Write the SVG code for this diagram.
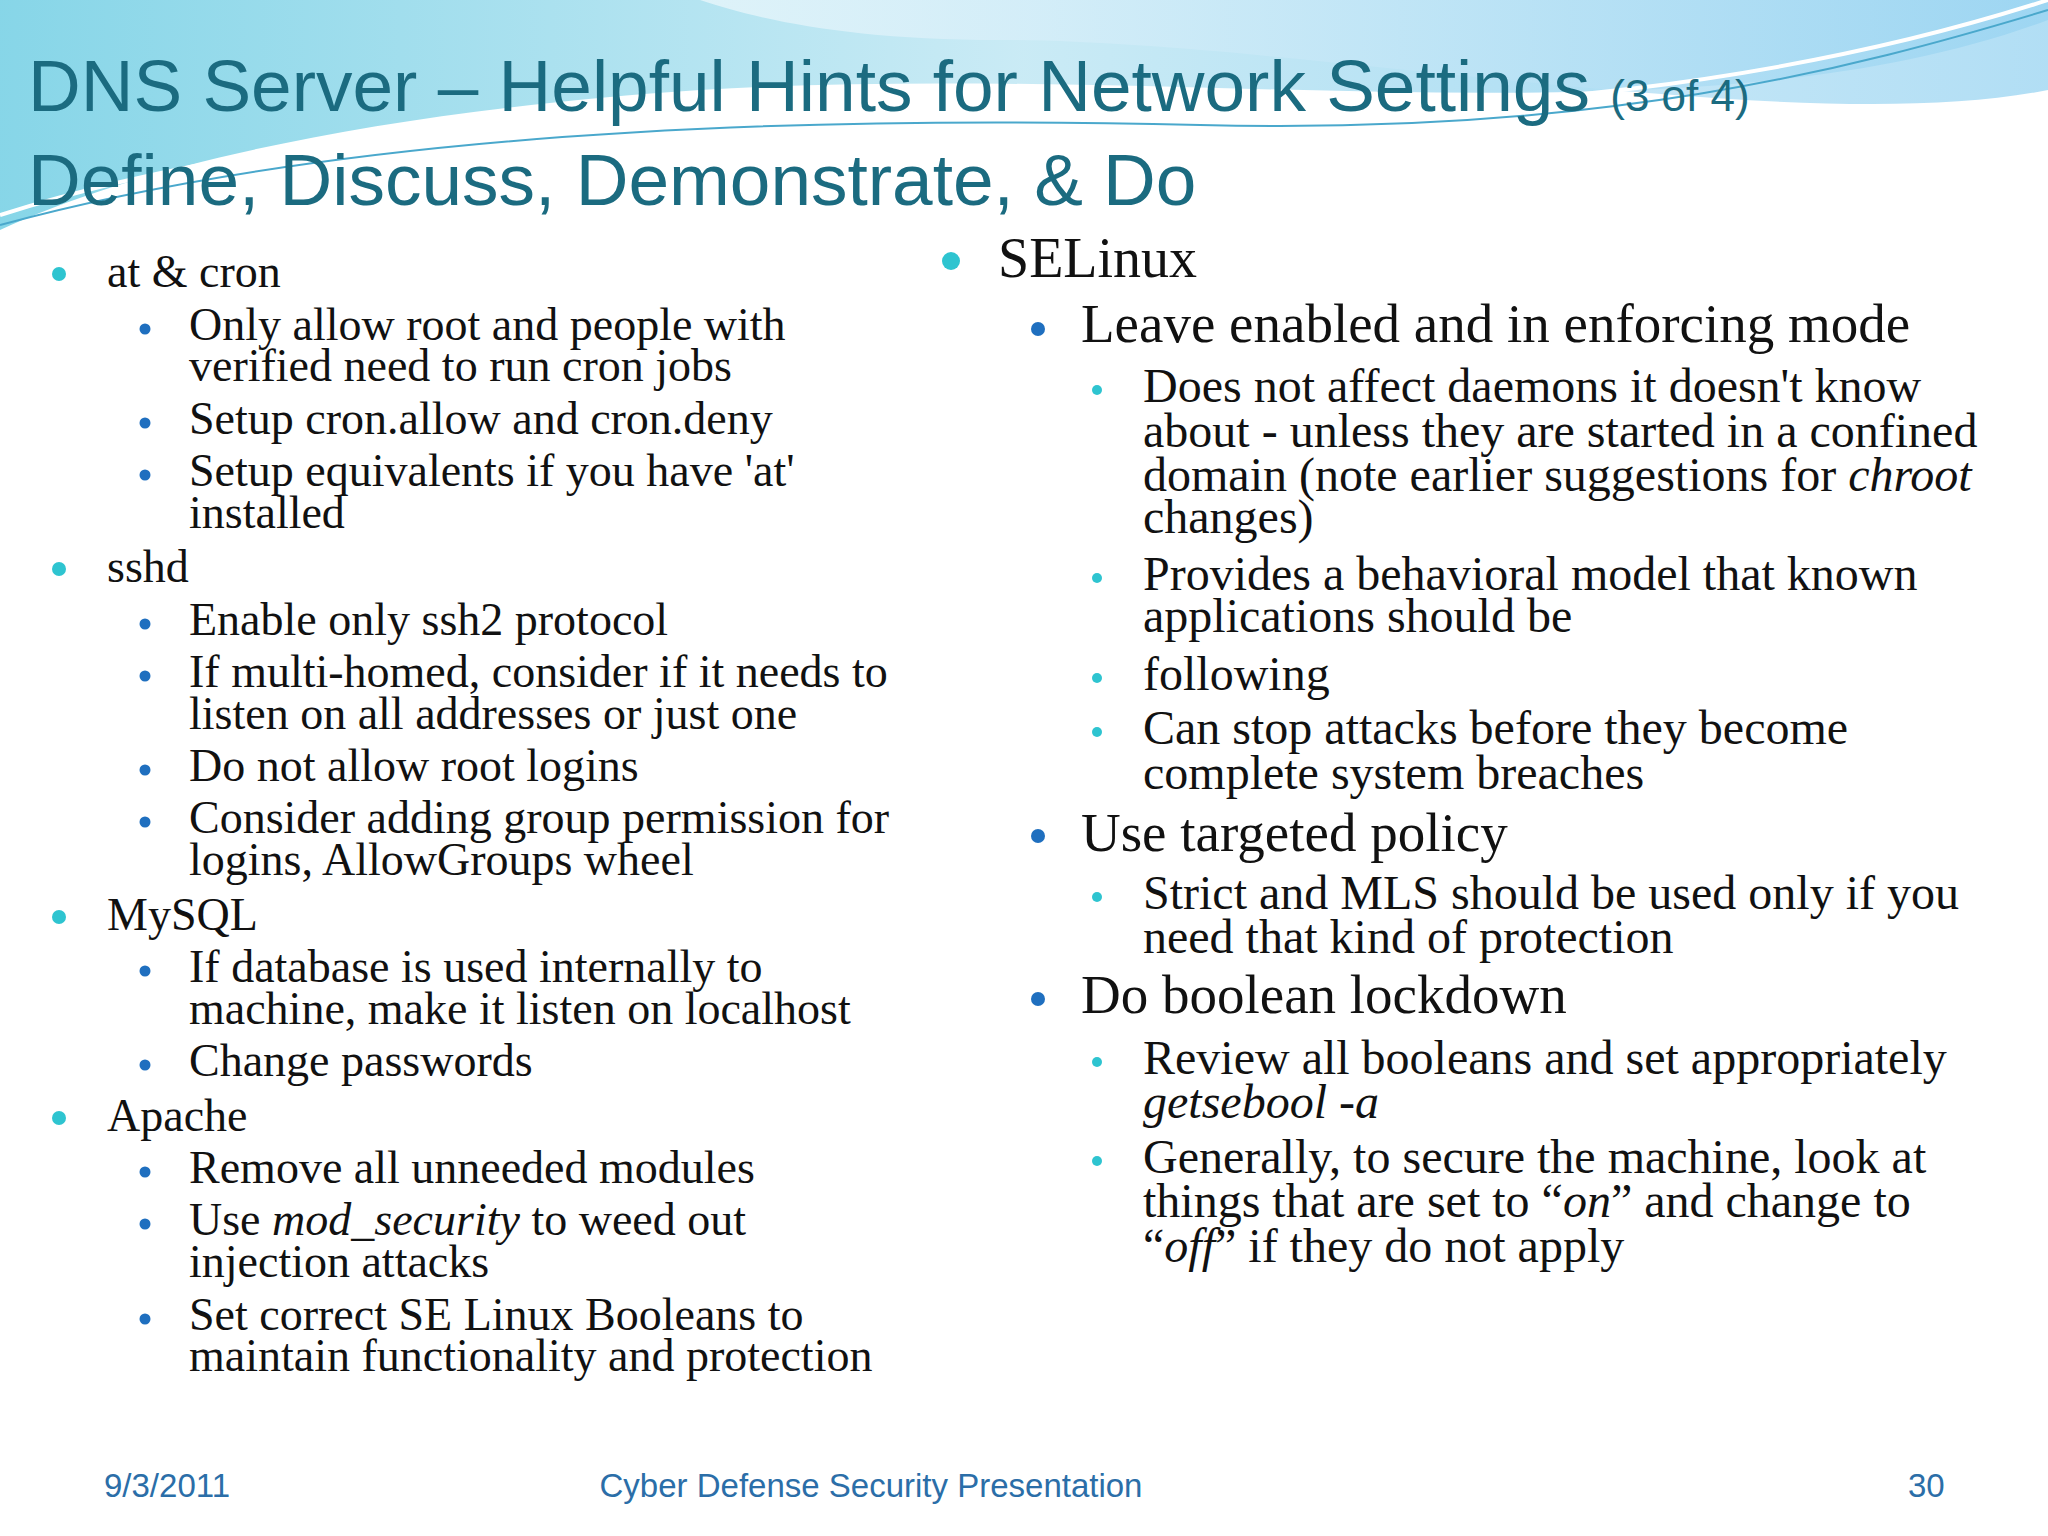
<svg xmlns="http://www.w3.org/2000/svg" width="2048" height="1536" viewBox="0 0 2048 1536">
<defs>
<linearGradient id="g1" x1="0" y1="0" x2="1" y2="0"><stop offset="0" stop-color="#5fc8e0"/><stop offset="0.5" stop-color="#b8e4f2"/><stop offset="1" stop-color="#7cc8ee"/></linearGradient>
<linearGradient id="g2" x1="0" y1="0" x2="1" y2="0"><stop offset="0" stop-color="#e8f6fb"/><stop offset="1" stop-color="#9ed6f2"/></linearGradient>
<style>
.t{font-family:"Liberation Sans","Open Sans",sans-serif;fill:#1b6b80}
.b{font-family:"Liberation Serif",serif;fill:#111}
.l1{font-size:46px}.l2{font-size:46px}.r1{font-size:56px}.r2{font-size:55px}.r3{font-size:48px}
.c1{fill:#2ec4d0}.c2{fill:#1f6fbf}
.f{font-family:"Liberation Sans",sans-serif;font-size:33px;fill:#2b6ea8}
</style>
</defs>
<rect width="2048" height="1536" fill="#fff"/>
<g id="background">
<path d="M0 0 H2048 V20 C1700 150 1200 60 700 90 C400 110 150 160 0 230 Z" fill="url(#g1)" opacity="0.75"/>
<path d="M700 0 H2048 V90 C1800 140 1300 40 1000 40 C850 40 760 20 700 0 Z" fill="url(#g2)" opacity="0.8"/>
<path d="M0 215 C300 120 700 100 1100 110 C1500 120 1800 80 2048 0" fill="none" stroke="#ffffff" stroke-width="4"/>
<path d="M0 225 C350 130 800 115 1200 125 C1600 135 1850 70 2048 10" fill="none" stroke="#4aa8cc" stroke-width="2"/>
</g>
<g id="title">
<text class="t" x="28" y="111" font-size="73">DNS Server – Helpful Hints for Network Settings <tspan font-size="44">(3 of 4)</tspan></text>
<text class="t" x="28" y="205" font-size="73">Define, Discuss, Demonstrate, &amp; Do</text>
</g>
<g id="left">
<g class="c1"><circle cx="59" cy="274" r="7"/><circle cx="59" cy="569" r="7"/><circle cx="59" cy="917" r="7"/><circle cx="59" cy="1118" r="7"/></g>
<g class="c2"><circle cx="145" cy="329" r="5.5"/><circle cx="145" cy="423" r="5.5"/><circle cx="145" cy="475" r="5.5"/><circle cx="145" cy="624" r="5.5"/><circle cx="145" cy="676" r="5.5"/><circle cx="145" cy="770" r="5.5"/><circle cx="145" cy="822" r="5.5"/><circle cx="145" cy="971" r="5.5"/><circle cx="145" cy="1065" r="5.5"/><circle cx="145" cy="1172" r="5.5"/><circle cx="145" cy="1224" r="5.5"/><circle cx="145" cy="1319" r="5.5"/></g>
<g class="b l1">
<text x="107" y="287">at &amp; cron</text><text x="107" y="582">sshd</text><text x="107" y="930">MySQL</text><text x="107" y="1131">Apache</text>
</g>
<g class="b l2">
<text x="189" y="340">Only allow root and people with</text>
<text x="189" y="381">verified need to run cron jobs</text>
<text x="189" y="434">Setup cron.allow and cron.deny</text>
<text x="189" y="486">Setup equivalents if you have 'at'</text>
<text x="189" y="528">installed</text>
<text x="189" y="635">Enable only ssh2 protocol</text>
<text x="189" y="687">If multi-homed, consider if it needs to</text>
<text x="189" y="729">listen on all addresses or just one</text>
<text x="189" y="781">Do not allow root logins</text>
<text x="189" y="833">Consider adding group permission for</text>
<text x="189" y="875">logins, AllowGroups wheel</text>
<text x="189" y="982">If database is used internally to</text>
<text x="189" y="1024">machine, make it listen on localhost</text>
<text x="189" y="1076">Change passwords</text>
<text x="189" y="1183">Remove all unneeded modules</text>
<text x="189" y="1235">Use <tspan font-style="italic">mod_security</tspan> to weed out</text>
<text x="189" y="1277">injection attacks</text>
<text x="189" y="1330">Set correct SE Linux Booleans to</text>
<text x="189" y="1371">maintain functionality and protection</text>
</g>
</g>
<g id="right">
<circle class="c1" cx="951" cy="261" r="9"/>
<g class="c2"><circle cx="1038" cy="329" r="7"/><circle cx="1038" cy="836" r="7"/><circle cx="1038" cy="999" r="7"/></g>
<g class="c1"><circle cx="1097" cy="390" r="5"/><circle cx="1097" cy="578" r="5"/><circle cx="1097" cy="678" r="5"/><circle cx="1097" cy="732" r="5"/><circle cx="1097" cy="897" r="5"/><circle cx="1097" cy="1062" r="5"/><circle cx="1097" cy="1161" r="5"/></g>
<text class="b r1" x="998" y="277">SELinux</text>
<g class="b r2">
<text x="1081" y="342">Leave enabled and in enforcing mode</text>
<text x="1081" y="851">Use targeted policy</text>
<text x="1081" y="1013">Do boolean lockdown</text>
</g>
<g class="b r3">
<text x="1143" y="402">Does not affect daemons it doesn't know</text>
<text x="1143" y="447">about - unless they are started in a confined</text>
<text x="1143" y="491">domain (note earlier suggestions for <tspan font-style="italic">chroot</tspan></text>
<text x="1143" y="533">changes)</text>
<text x="1143" y="590">Provides a behavioral model that known</text>
<text x="1143" y="632">applications should be</text>
<text x="1143" y="690">following</text>
<text x="1143" y="744">Can stop attacks before they become</text>
<text x="1143" y="789">complete system breaches</text>
<text x="1143" y="909">Strict and MLS should be used only if you</text>
<text x="1143" y="953">need that kind of protection</text>
<text x="1143" y="1074">Review all booleans and set appropriately</text>
<text x="1143" y="1118" font-style="italic">getsebool -a</text>
<text x="1143" y="1173">Generally, to secure the machine, look at</text>
<text x="1143" y="1217">things that are set to “<tspan font-style="italic">on</tspan>” and change to</text>
<text x="1143" y="1262">“<tspan font-style="italic">off</tspan>” if they do not apply</text>
</g>
</g>
<g id="footer">
<text class="f" x="104" y="1497">9/3/2011</text>
<text class="f" x="871" y="1497" text-anchor="middle">Cyber Defense Security Presentation</text>
<text class="f" x="1908" y="1497">30</text>
</g>
</svg>
